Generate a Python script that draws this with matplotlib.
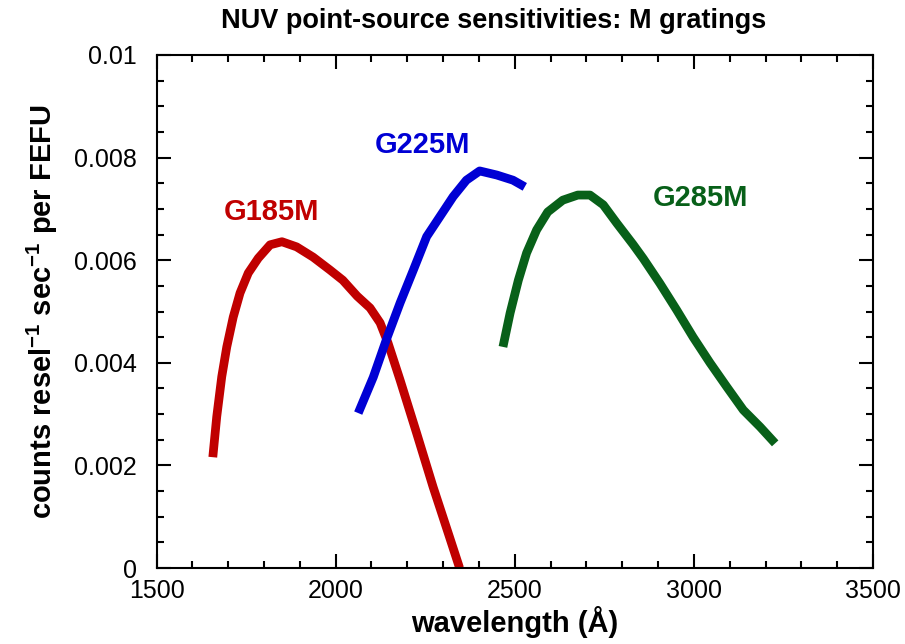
import matplotlib
matplotlib.use("Agg")
import matplotlib.pyplot as plt
from matplotlib.ticker import MultipleLocator, FixedLocator

plt.rcParams['font.family'] = ['Liberation Sans', 'DejaVu Sans']
plt.rcParams['mathtext.fontset'] = 'custom'
plt.rcParams['mathtext.rm'] = 'Liberation Sans'
plt.rcParams['mathtext.bf'] = 'Liberation Sans:bold'

g185_wl = [1657, 1668, 1682, 1696, 1714, 1733, 1756, 1784, 1817, 1850, 1891, 1937,
           1984, 2020, 2060, 2096, 2124, 2146, 2180, 2226, 2272, 2318, 2346]
g185_s = [0.00216, 0.00295, 0.00373, 0.00431, 0.00489, 0.00536, 0.00575, 0.00604,
          0.0063, 0.00636, 0.00626, 0.00606, 0.00581, 0.00561, 0.00530, 0.00507,
          0.00478, 0.00439, 0.00366, 0.00263, 0.00158, 0.0006, 0.0]

g225_wl = [2063, 2105, 2143, 2180, 2217, 2254, 2291, 2328, 2365, 2402, 2450, 2495, 2528]
g225_s = [0.00302, 0.00372, 0.00448, 0.00517, 0.00581, 0.00646, 0.00685, 0.00724,
          0.00756, 0.00774, 0.00766, 0.00756, 0.00743]

g285_wl = [2467, 2487, 2510, 2533, 2561, 2592, 2634, 2676, 2710, 2747, 2785, 2830,
           2859, 2905, 2952, 2998, 3045, 3092, 3138, 3185, 3227]
g285_s = [0.00431, 0.00497, 0.00561, 0.00614, 0.00659, 0.00694, 0.00717, 0.00727,
          0.00727, 0.00708, 0.00672, 0.00631, 0.00603, 0.00555, 0.00503, 0.0045,
          0.004, 0.00353, 0.00308, 0.00275, 0.00243]

labels = ['G185M', 'G225M', 'G285M']
label_x = [1688, 2110, 2886]
label_y = [0.00694, 0.00825, 0.00721]
colors = ['#C00000', '#0000D4', '#086019']

xticks = [1500, 2000, 2500, 3000, 3500]
yticks = [0, 0.002, 0.004, 0.006, 0.008, 0.01]
ytick_labels = ['0', '0.002', '0.004', '0.006', '0.008', '0.01']

fig = plt.figure(figsize=(9.05, 6.44), dpi=100)
ax = fig.add_axes([0.173, 0.118, 0.7916, 0.7966])

for wl, s, c in zip([g185_wl, g225_wl, g285_wl], [g185_s, g225_s, g285_s], colors):
    ax.plot(wl, s, color=c, lw=6.3, solid_capstyle='butt', solid_joinstyle='round')

for lab, lx, ly, c in zip(labels, label_x, label_y, colors):
    ax.text(lx, ly, lab, color=c, fontsize=21, fontweight='bold', ha='left', va='center')

ax.set_xlim(1500, 3500)
ax.set_ylim(0, 0.01)
ax.xaxis.set_major_locator(FixedLocator(xticks))
ax.set_xticklabels([str(t) for t in xticks])
ax.xaxis.set_minor_locator(MultipleLocator(100))
ax.yaxis.set_major_locator(FixedLocator(yticks))
ax.set_yticklabels(ytick_labels)
ax.yaxis.set_minor_locator(MultipleLocator(0.0005))

ax.tick_params(which='both', direction='in', top=True, right=True, width=1.5,
               labelsize=18)
ax.tick_params(axis='y', pad=14)
ax.tick_params(axis='x', pad=8)
ax.tick_params(which='major', length=10)
ax.tick_params(which='minor', length=5)
for sp in ax.spines.values():
    sp.set_linewidth(1.5)

fig.text(0.545, 0.968, 'NUV point-source sensitivities: M gratings', fontsize=19.5,
         fontweight='bold', ha='center', va='center')
ax.set_xlabel('wavelength (Å)', fontsize=21, fontweight='bold', labelpad=2)
ax.set_ylabel(r'counts resel$^{\mathbf{-1}}$ sec$^{\mathbf{-1}}$ per FEFU',
              fontsize=21, fontweight='bold', labelpad=10)

fig.savefig('out.png', dpi=100)
